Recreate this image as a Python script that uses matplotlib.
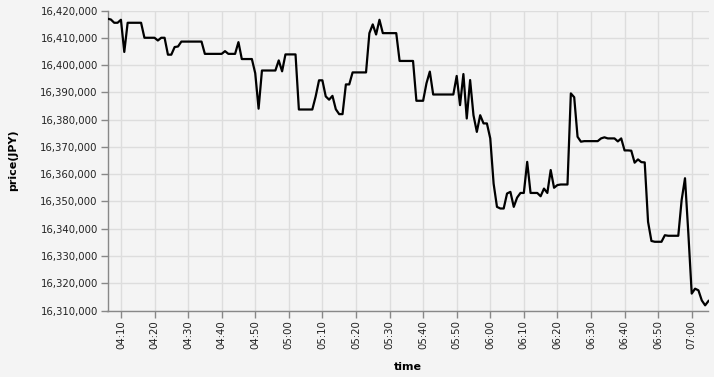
import numpy as np
import pandas as pd
import matplotlib
matplotlib.use("Agg")
import matplotlib.pyplot as plt
import matplotlib.dates as mdates
from matplotlib.ticker import MultipleLocator, FuncFormatter

# one reading per minute, 04:06 -> 07:05
start_time = "2021-01-01 04:06"
prices = [
    16417000, 16416700, 16415500, 16415500, 16416600, 16404800, 16415500, 16415500,  # 04:06-04:13
    16415500, 16415500, 16415500, 16410000, 16410000, 16410000, 16410000, 16409000,  # 04:14-04:21
    16410000, 16410000, 16403800, 16403800, 16406600, 16406800, 16408600, 16408600,  # 04:22-04:29
    16408600, 16408600, 16408600, 16408600, 16408600, 16404100, 16404100, 16404100,  # 04:30-04:37
    16404100, 16404100, 16404100, 16405100, 16404100, 16404100, 16404100, 16408400,  # 04:38-04:45
    16402200, 16402200, 16402200, 16402200, 16397000, 16384000, 16398000, 16398000,  # 04:46-04:53
    16398000, 16398000, 16398000, 16401700, 16397700, 16403900, 16403900, 16403900,  # 04:54-05:01
    16403900, 16383700, 16383700, 16383700, 16383700, 16383700, 16388500, 16394400,  # 05:02-05:09
    16394400, 16388500, 16387300, 16388700, 16383800, 16382000, 16382000, 16392900,  # 05:10-05:17
    16392900, 16397300, 16397300, 16397300, 16397300, 16397300, 16411700, 16414900,  # 05:18-05:25
    16411200, 16416600, 16411700, 16411700, 16411700, 16411700, 16411700, 16401500,  # 05:26-05:33
    16401500, 16401500, 16401500, 16401500, 16386900, 16386900, 16386900, 16393300,  # 05:34-05:41
    16397600, 16389200, 16389200, 16389200, 16389200, 16389200, 16389200, 16389200,  # 05:42-05:49
    16396000, 16385300, 16396700, 16380400, 16394500, 16381600, 16375500, 16381600,  # 05:50-05:57
    16378600, 16378600, 16373100, 16356500, 16348000, 16347400, 16347400, 16352900,  # 05:58-06:05
    16353500, 16348000, 16351400, 16353100, 16353100, 16364500, 16353100, 16353100,  # 06:06-06:13
    16353100, 16351900, 16354700, 16353100, 16361500, 16355000, 16356000, 16356200,  # 06:14-06:21
    16356200, 16356200, 16389600, 16388200, 16373700, 16371900, 16372100, 16372100,  # 06:22-06:29
    16372100, 16372100, 16372100, 16373100, 16373500, 16373100, 16373100, 16373100,  # 06:30-06:37
    16372000, 16373100, 16368700, 16368700, 16368600, 16364200, 16365400, 16364400,  # 06:38-06:45
    16364300, 16342500, 16335500, 16335200, 16335200, 16335200, 16337600, 16337400,  # 06:46-06:53
    16337400, 16337400, 16337400, 16350500, 16358500, 16338200, 16316200, 16318000,  # 06:54-07:01
    16317400, 16313700, 16311900, 16313500,                                          # 07:02-07:05
]
times = pd.date_range(start_time, periods=len(prices), freq="1min")

y_min, y_max = 16310000, 16420000

bg = "#f4f4f4"
fig = plt.figure(figsize=(7.14, 3.77), dpi=100, facecolor=bg)
ax = fig.add_axes([107.5 / 714, (377 - 310.5) / 377, 601 / 714, 300 / 377])
ax.set_facecolor(bg)

ax.plot(times, prices, color="black", linewidth=1.6, zorder=3)

ax.set_xlim(times[0], times[-1])
ax.set_ylim(y_min, y_max)

ax.yaxis.set_major_locator(MultipleLocator(10000))
ax.yaxis.set_major_formatter(FuncFormatter(lambda v, p: f"{v:,.0f}"))
ax.xaxis.set_major_locator(mdates.MinuteLocator(byminute=range(0, 60, 10)))
ax.xaxis.set_major_formatter(mdates.DateFormatter("%H:%M"))

ax.grid(True, color="#dddddd", linewidth=1)
ax.set_axisbelow(True)
for s in ["top", "right"]:
    ax.spines[s].set_visible(False)
for s in ["left", "bottom"]:
    ax.spines[s].set_color("#888888")
    ax.spines[s].set_linewidth(1)

ax.tick_params(axis="both", colors="#888888", length=5, width=1, labelcolor="#222222", labelsize=7.3)
ax.tick_params(axis="x", labelrotation=90, pad=2)
ax.tick_params(axis="y", pad=2)

ax.set_ylabel("price(JPY)", fontsize=8, fontweight="bold", labelpad=16)
ax.set_xlabel("time", fontsize=8, fontweight="bold", labelpad=9)

fig.savefig("out.png", dpi=100, facecolor=bg)
